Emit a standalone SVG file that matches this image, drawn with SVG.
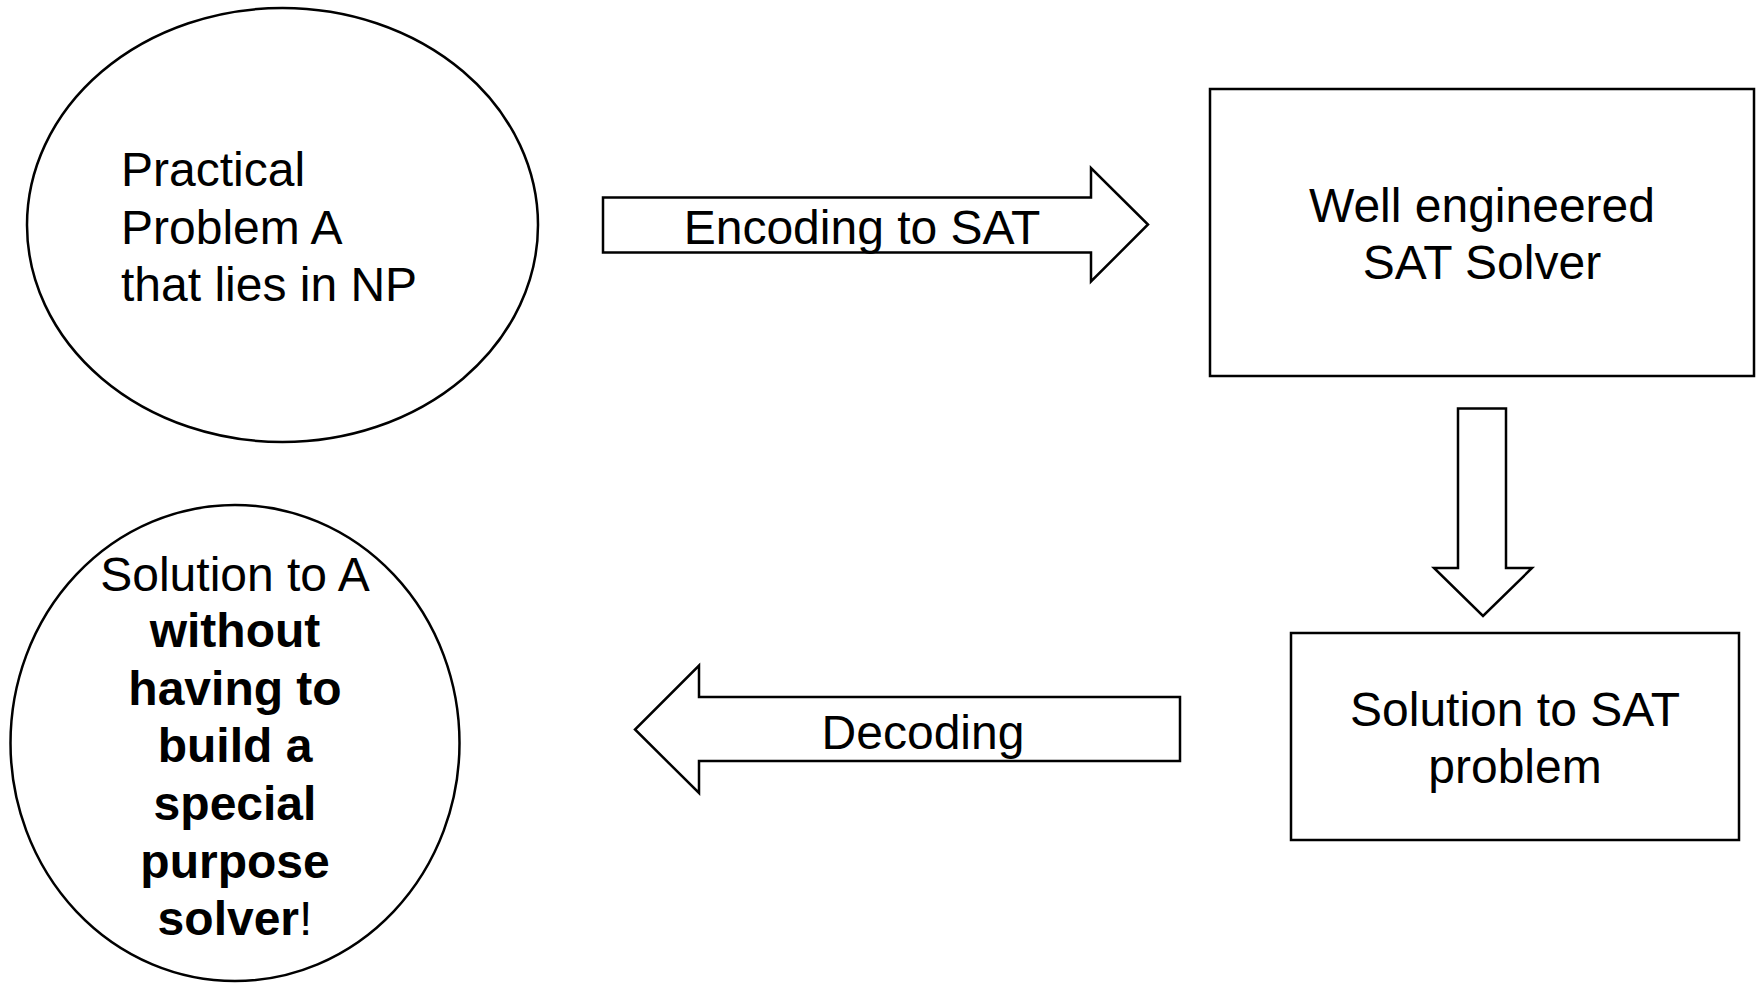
<svg xmlns="http://www.w3.org/2000/svg" width="1760" height="983" viewBox="0 0 1760 983">
<style>
.shape{fill:#fff;stroke:#000;stroke-width:2.5;stroke-linejoin:miter}
.t{font-family:"Liberation Sans",Arial,sans-serif;font-size:48px;fill:#000}
.c{text-anchor:middle}
.b{font-weight:bold}
</style>
<rect width="1760" height="983" fill="#fff"/>
<g id="problemA">
<ellipse class="shape" cx="282.5" cy="225" rx="255.5" ry="217"/>
<text class="t" x="121" y="186">Practical</text>
<text class="t" x="121" y="244">Problem A</text>
<text class="t" x="121" y="301">that lies in NP</text>
</g>
<g id="solver">
<rect class="shape" x="1210" y="89" width="544" height="287"/>
<text class="t c" x="1482" y="222">Well engineered</text>
<text class="t c" x="1482" y="279">SAT Solver</text>
</g>
<g id="satSolution">
<rect class="shape" x="1291" y="633" width="448" height="207"/>
<text class="t c" x="1515" y="726">Solution to SAT</text>
<text class="t c" x="1515" y="783">problem</text>
</g>
<g id="solutionA">
<ellipse class="shape" cx="235" cy="743" rx="224.5" ry="238"/>
<text class="t c" x="235" y="591">Solution to A</text>
<text class="t c b" x="235" y="647">without</text>
<text class="t c b" x="235" y="705">having to</text>
<text class="t c b" x="235" y="762">build a</text>
<text class="t c b" x="235" y="820">special</text>
<text class="t c b" x="235" y="878">purpose</text>
<text class="t c" x="235" y="935"><tspan class="b">solver</tspan>!</text>
</g>
<g id="connectors">
<g id="encoding">
<polygon class="shape" points="603,197.5 1091,197.5 1091,168 1148,224.5 1091,281.5 1091,252.5 603,252.5"/>
<text class="t c" x="862" y="244">Encoding to SAT</text>
</g>
<g id="solve">
<polygon class="shape" points="1458,408.5 1506,408.5 1506,568 1532,568 1483,616 1434,568 1458,568"/>
</g>
<g id="decoding">
<polygon class="shape" points="1180,697 699,697 699,665.5 635,729.5 699,793 699,761 1180,761"/>
<text class="t c" x="923" y="749">Decoding</text>
</g>
</g>
</svg>
